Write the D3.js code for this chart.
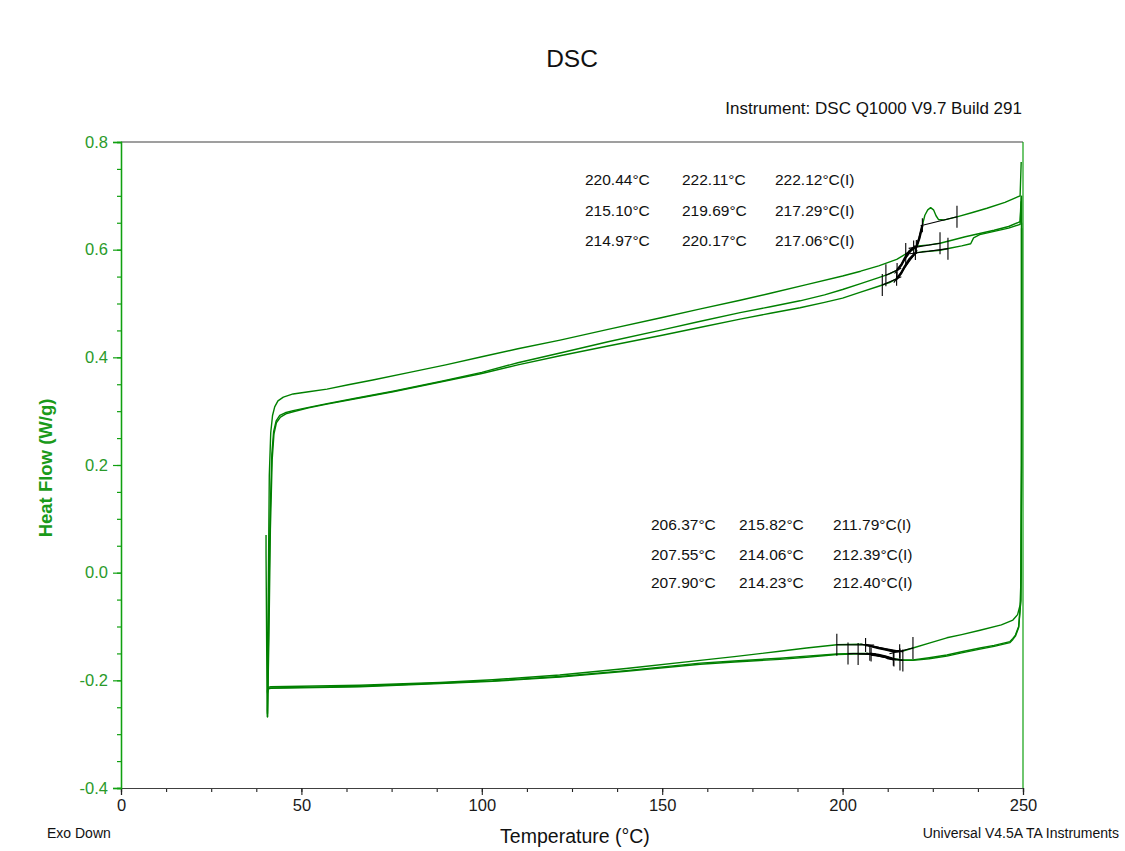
<!DOCTYPE html>
<html>
<head>
<meta charset="utf-8">
<script src="https://cdn.jsdelivr.net/npm/d3@7"></script>
<style>
  html, body { margin: 0; padding: 0; background: #ffffff; }
  svg { display: block; font-family: "Liberation Sans", Arial, sans-serif; }
</style>
</head>
<body>
<svg id="chart" width="1125" height="851"></svg>
<script>
// ---------- data: temperature (°C), heat flow (W/g) ----------
const heatRun1 = [
  [40.2,0.070],[40.2,0.035],[40.5,-0.255],[40.6,-0.268],[40.8,-0.05],[41.1,0.18],[41.5,0.26],
  [42.0,0.292],[42.6,0.308],[43.5,0.319],[45,0.326],[47.7,0.332],[52,0.336],[57.1,0.341],
  [63,0.349],[69.8,0.358],[80,0.372],[90,0.386],[100,0.401],[110,0.416],[121.7,0.432],
  [135,0.452],[150,0.474],[160,0.489],[171.6,0.506],[180,0.519],[190,0.535],[200,0.551],
  [205,0.560],[210,0.570],[215,0.582],[218,0.594],[220.4,0.604],[221.3,0.622],[222.1,0.645],
  [222.8,0.664],[223.6,0.674],[224.4,0.678],[225.2,0.674],[225.9,0.663],[226.6,0.656],
  [228,0.655],[231.7,0.661],[236,0.669],[240,0.677],[245,0.688],[249.2,0.700],[249.5,0.763]
];
const heatRun2 = [
  [40.6,-0.262],[40.9,-0.10],[41.3,0.10],[41.8,0.22],[42.3,0.262],[43.0,0.282],[44.0,0.292],
  [45.5,0.297],[47.7,0.301],[52,0.307],[57.1,0.314],[65,0.324],[75.4,0.337],[89.2,0.356],
  [100,0.372],[110,0.390],[121.7,0.408],[135,0.429],[150,0.451],[160,0.466],[171.6,0.483],
  [180,0.494],[188.2,0.505],[195,0.516],[200,0.526],[205,0.537],[210,0.548],[213,0.555],
  [215.1,0.562],[216.3,0.572],[217.3,0.585],[218.5,0.597],[219.7,0.604],[221,0.607],
  [224,0.609],[227,0.612],[230,0.617],[234,0.624],[238,0.630],[242,0.636],[246,0.643],
  [249.2,0.652],[249.5,0.700]
];
const heatRun3 = [
  [40.6,-0.268],[41.0,-0.12],[41.4,0.08],[41.9,0.21],[42.4,0.258],[43.1,0.279],[44.2,0.289],
  [45.7,0.295],[47.7,0.299],[52,0.306],[57.1,0.313],[65,0.323],[75.4,0.336],[89.2,0.355],
  [100,0.370],[110,0.386],[121.7,0.403],[135,0.421],[150,0.441],[160,0.455],[171.6,0.471],
  [180,0.482],[188.2,0.492],[195,0.502],[200,0.510],[205,0.521],[210,0.532],[213,0.539],
  [215,0.546],[216.2,0.556],[217.1,0.567],[218.5,0.582],[220.2,0.594],[222,0.596],
  [224,0.597],[227,0.599],[230,0.603],[233,0.607],[235.5,0.611],[236.3,0.622],[238,0.628],
  [242,0.634],[246,0.640],[249.2,0.647],[249.5,0.690]
];
const coolRun1 = [
  [249.6,0.700],[249.6,0.30],[249.5,0.00],[249.2,-0.060],[248.5,-0.078],[247.2,-0.088],
  [244,-0.097],[238.1,-0.107],[233,-0.115],[228.9,-0.121],[224,-0.131],[219.5,-0.140],
  [216.5,-0.146],[214,-0.146],[212,-0.143],[210,-0.140],[207,-0.135],[205,-0.133],
  [198.4,-0.134],[190,-0.140],[182.6,-0.146],[170,-0.156],[160.5,-0.163],[140,-0.178],
  [121.6,-0.190],[103,-0.199],[88.4,-0.204],[66.2,-0.209],[50,-0.211],[41.5,-0.212],
  [40.7,-0.213],[40.6,-0.220]
];
const coolRun2 = [
  [249.6,0.650],[249.6,0.20],[249.4,-0.050],[248.8,-0.100],[247.9,-0.116],[247.2,-0.122],
  [246.4,-0.128],[242,-0.135],[238.1,-0.140],[233,-0.147],[228.9,-0.153],[224,-0.158],
  [219.5,-0.162],[216.7,-0.162],[214,-0.160],[212,-0.156],[210,-0.153],[207,-0.150],
  [203,-0.150],[198.4,-0.151],[190,-0.155],[182.6,-0.159],[170,-0.164],[160.5,-0.168],
  [140,-0.182],[121.6,-0.193],[103,-0.201],[88.4,-0.205],[66.2,-0.211],[50,-0.213],
  [41.5,-0.214],[40.7,-0.215],[40.6,-0.222]
];
const coolRun3 = [
  [249.6,0.640],[249.6,0.20],[249.4,-0.052],[248.8,-0.102],[247.9,-0.118],[247.2,-0.124],
  [246.4,-0.130],[242,-0.137],[238.1,-0.142],[233,-0.149],[228.9,-0.155],[224,-0.160],
  [219.5,-0.163],[216.7,-0.163],[214,-0.161],[212,-0.157],[210,-0.154],[207,-0.151],
  [203,-0.151],[198.4,-0.152],[190,-0.157],[182.6,-0.161],[170,-0.166],[160.5,-0.170],
  [140,-0.183],[121.6,-0.194],[103,-0.202],[88.4,-0.206],[66.2,-0.212],[50,-0.214],
  [41.5,-0.215],[40.7,-0.216],[40.6,-0.224]
];

// glass transition analyses: onset, end, inflection (°C) and analysis limits
const heatOnset = [220.44, 215.10, 214.97];
const heatEnd   = [222.11, 219.69, 220.17];
const heatInfl  = [222.12, 217.29, 217.06];
const heatLimits = [[217.5, 231.7], [212.0, 227.0], [211.0, 229.2]];

const coolOnset = [206.37, 207.55, 207.90];
const coolEnd   = [215.82, 214.06, 214.23];
const coolInfl  = [211.79, 212.39, 212.40];
const coolLimits = [[198.4, 219.5], [201.5, 215.9], [204.3, 216.7]];

const xMajorTicks = [0, 50, 100, 150, 200, 250];
const yMajorTicks = [-0.4, -0.2, 0.0, 0.2, 0.4, 0.6, 0.8];

// ---------- layout ----------
const svg = d3.select("#chart");
const green = "#008000";
const axisGreen = "#10a010";
const x = d3.scaleLinear().domain([0, 250]).range([121, 1023]);
const y = d3.scaleLinear().domain([-0.4, 0.8]).range([788, 142]);

// frame: black top/bottom, green sides
svg.append("line").attr("x1", x(0)).attr("x2", x(250)).attr("y1", y(0.8)).attr("y2", y(0.8))
  .attr("stroke", "#404040").attr("stroke-width", 1.2);
svg.append("line").attr("x1", x(250)).attr("x2", x(250)).attr("y1", y(0.8)).attr("y2", y(-0.4))
  .attr("stroke", axisGreen).attr("stroke-width", 1.2);

// x axis
const xMinor = d3.axisBottom(x).tickValues(d3.range(0, 250.01, 12.5)).tickSize(4).tickFormat("");
const gxm = svg.append("g").attr("transform", `translate(0,${y(-0.4)})`).call(xMinor);
const xMajor = d3.axisBottom(x).tickValues(xMajorTicks).tickSize(7).tickPadding(4).tickFormat(d => String(d));
const gx = svg.append("g").attr("transform", `translate(0,${y(-0.4)})`).call(xMajor);
[gxm, gx].forEach(g => {
  g.select(".domain").attr("stroke", "#404040").attr("stroke-width", 1.2);
  g.selectAll(".tick line").attr("stroke", "#202020").attr("stroke-width", 1.1);
});
gx.selectAll(".tick text").attr("fill", "#1a1a1a").style("font-size", "16.5px")
  .style("font-family", "'Liberation Sans', Arial, sans-serif");

// y axis
const yMinor = d3.axisLeft(y).tickValues(d3.range(-0.4, 0.8001, 0.05)).tickSize(4).tickFormat("");
const gym = svg.append("g").attr("transform", `translate(${x(0)},0)`).call(yMinor);
const yMajor = d3.axisLeft(y).tickValues(yMajorTicks).tickSize(8).tickPadding(5).tickFormat(d => d.toFixed(1));
const gy = svg.append("g").attr("transform", `translate(${x(0)},0)`).call(yMajor);
[gym, gy].forEach(g => {
  g.select(".domain").attr("stroke", axisGreen).attr("stroke-width", 1.3);
  g.selectAll(".tick line").attr("stroke", axisGreen).attr("stroke-width", 1.2);
});
gy.selectAll(".tick text").attr("fill", "#2a9a2a").style("font-size", "16.5px")
  .style("font-family", "'Liberation Sans', Arial, sans-serif");

// ---------- curves ----------
const line = d3.line().x(d => x(d[0])).y(d => y(d[1]));
const curves = [heatRun1, heatRun2, heatRun3, coolRun1, coolRun2, coolRun3];
svg.append("g").selectAll("path").data(curves).join("path")
  .attr("d", line).attr("fill", "none").attr("stroke", green)
  .attr("stroke-width", 1.4).attr("stroke-linejoin", "round");

// ---------- glass transition markings ----------
function valueAt(curve, t) {
  for (let i = 1; i < curve.length; i++) {
    const [t0, w0] = curve[i - 1], [t1, w1] = curve[i];
    if (t1 === t0) continue;
    if ((t0 <= t && t <= t1) || (t1 <= t && t <= t0)) return w0 + (w1 - w0) * (t - t0) / (t1 - t0);
  }
  return null;
}
function through(p, q, t) { return p[1] + (q[1] - p[1]) * (t - p[0]) / (q[0] - p[0]); }
function section(curve, a, b) {
  const pts = curve.filter(d => d[0] > a && d[0] < b && d[0] > 100);
  pts.push([a, valueAt(curve, a)], [b, valueAt(curve, b)]);
  return pts.sort((m, n) => m[0] - n[0]);
}

const marks = svg.append("g");
function drawTransition(curve, onset, end, lim) {
  const pL = [lim[0], valueAt(curve, lim[0])];
  const pO = [onset, valueAt(curve, onset)];
  const pE = [end, valueAt(curve, end)];
  const pR = [lim[1], valueAt(curve, lim[1])];
  const span = end - onset;
  const seg = (a, b) => marks.append("path").attr("d", line([a, b]))
    .attr("stroke", "#000").attr("stroke-width", 1.1).attr("fill", "none");
  // baseline before the transition, extended past onset
  seg(pL, [onset + 0.25 * span, through(pL, pO, onset + 0.25 * span)]);
  // baseline after the transition, extended before end
  seg([end - 0.3 * span, through(pE, pR, end - 0.3 * span)], pR);
  // transition tangent
  seg([onset - 0.15 * span, through(pO, pE, onset - 0.15 * span)],
      [end + 0.1 * span, through(pO, pE, end + 0.1 * span)]);
  // highlighted trace between onset and end
  marks.append("path").attr("d", line(section(curve, onset, end)))
    .attr("stroke", "#000").attr("stroke-width", 2.4).attr("fill", "none");
  // limit and point ticks
  const tick = (p, h) => marks.append("line")
    .attr("x1", x(p[0])).attr("x2", x(p[0])).attr("y1", y(p[1]) - h).attr("y2", y(p[1]) + h)
    .attr("stroke", "#000").attr("stroke-width", 1.1);
  tick(pL, 11); tick(pR, 11); tick(pO, 7); tick(pE, 7);
}
[heatRun1, heatRun2, heatRun3].forEach((c, i) => drawTransition(c, heatOnset[i], heatEnd[i], heatLimits[i]));
[coolRun1, coolRun2, coolRun3].forEach((c, i) => drawTransition(c, coolOnset[i], coolEnd[i], coolLimits[i]));

// ---------- result labels ----------
const fmt = v => v.toFixed(2) + "°C";
const labelFont = "15.5px";
function labelBlock(onsets, ends, infls, cols, rows) {
  onsets.forEach((o, i) => {
    [fmt(o), fmt(ends[i]), fmt(infls[i]) + "(I)"].forEach((s, j) => {
      svg.append("text").attr("x", cols[j]).attr("y", rows[i]).attr("dy", "0.35em")
        .attr("fill", "#111").style("font-size", labelFont).text(s);
    });
  });
}
labelBlock(heatOnset, heatEnd, heatInfl, [585, 682, 775], [180, 211, 241]);
labelBlock(coolOnset, coolEnd, coolInfl, [651, 739, 833], [525, 555, 583]);

// ---------- titles and notes ----------
svg.append("text").attr("x", 572).attr("y", 58).attr("dy", "0.35em").attr("text-anchor", "middle")
  .attr("fill", "#111").style("font-size", "24.5px").text("DSC");
svg.append("text").attr("x", 1022).attr("y", 108).attr("dy", "0.35em").attr("text-anchor", "end")
  .attr("fill", "#111").style("font-size", "17px").text("Instrument: DSC Q1000 V9.7 Build 291");
svg.append("text").attr("x", 575).attr("y", 836).attr("dy", "0.35em").attr("text-anchor", "middle")
  .attr("fill", "#111").style("font-size", "19.5px").text("Temperature (°C)");
svg.append("text").attr("transform", "translate(46,468) rotate(-90)").attr("dy", "0.35em")
  .attr("text-anchor", "middle").attr("fill", "#1a9a1a").style("font-size", "18.5px")
  .style("font-weight", "bold").text("Heat Flow (W/g)");
svg.append("text").attr("x", 47).attr("y", 833).attr("dy", "0.35em")
  .attr("fill", "#111").style("font-size", "14px").text("Exo Down");
svg.append("text").attr("x", 1119).attr("y", 833).attr("dy", "0.35em").attr("text-anchor", "end")
  .attr("fill", "#111").style("font-size", "14px").text("Universal V4.5A TA Instruments");
</script>
</body>
</html>
